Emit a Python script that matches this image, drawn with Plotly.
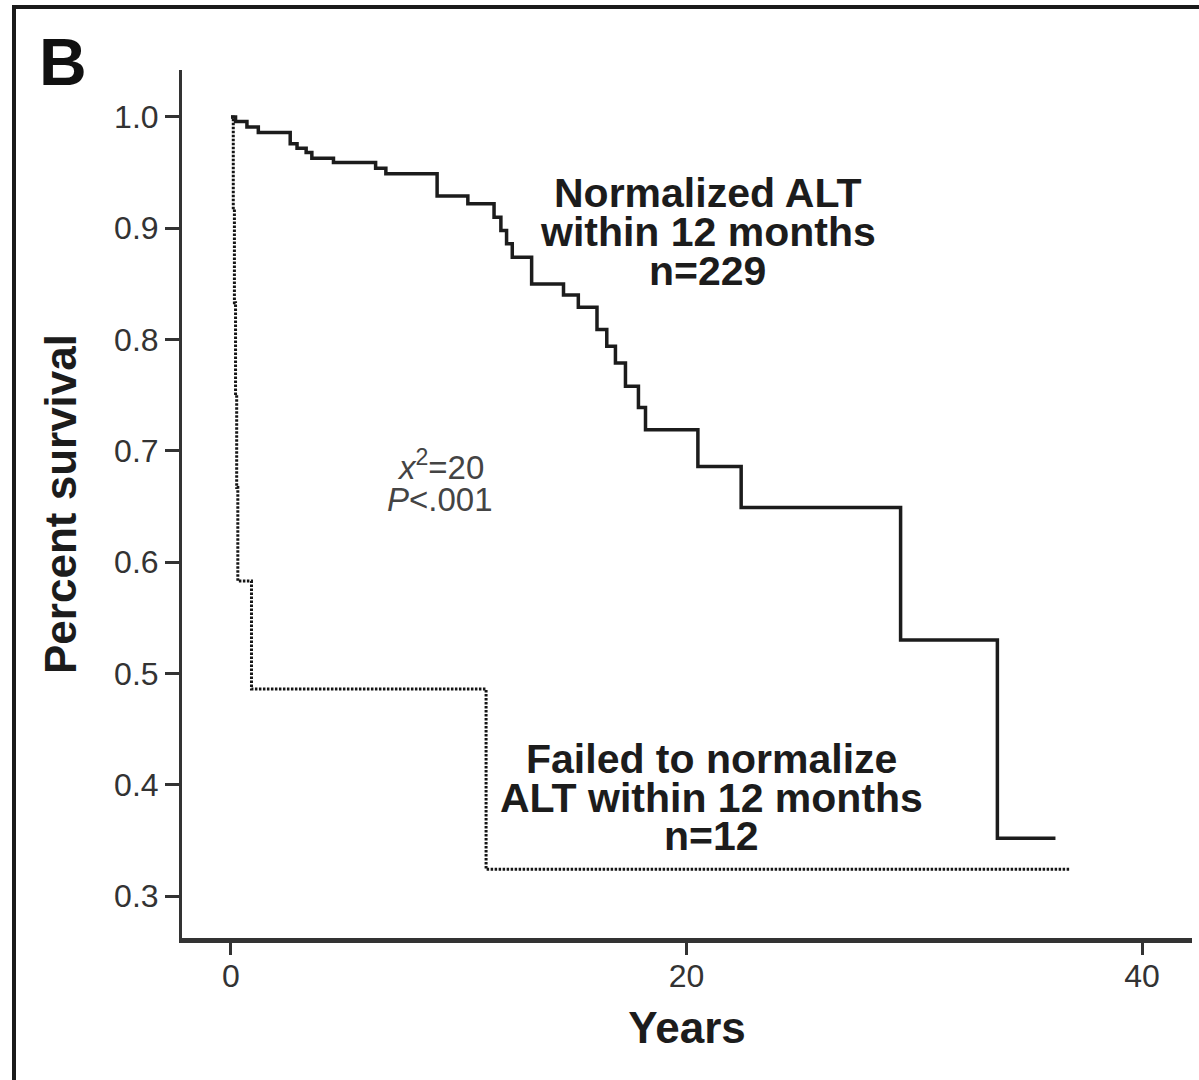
import plotly.graph_objects as go

# Normalized ALT within 12 months (n=229): step times (years) and survival after each step
norm_t = [0.0, 0.2, 0.7, 1.2, 2.6, 2.9, 3.3, 3.55, 4.5, 6.35, 6.8, 9.05, 10.4,
          11.55, 11.85, 12.1, 12.35, 13.2, 14.6, 15.25, 16.07, 16.5, 16.88,
          17.32, 17.89, 18.2, 20.5, 22.4, 29.4, 33.65, 36.2]
norm_s = [1.0, 0.996, 0.991, 0.986, 0.976, 0.972, 0.968, 0.963, 0.959, 0.954,
          0.949, 0.929, 0.922, 0.910, 0.898, 0.886, 0.874, 0.850, 0.840, 0.829,
          0.809, 0.794, 0.779, 0.758, 0.739, 0.719, 0.686, 0.649, 0.530, 0.352, 0.352]

# Failed to normalize ALT within 12 months (n=12)
fail_t = [0.0, 0.1, 0.15, 0.2, 0.25, 0.3, 0.9, 11.2, 36.8]
fail_s = [1.0, 0.917, 0.833, 0.75, 0.667, 0.583, 0.486, 0.324, 0.324]

y_ticks = [0.3, 0.4, 0.5, 0.6, 0.7, 0.8, 0.9, 1.0]
y_tick_labels = ["0.3", "0.4", "0.5", "0.6", "0.7", "0.8", "0.9", "1.0"]
x_ticks = [0, 20, 40]
x_tick_labels = ["0", "20", "40"]

FONT = "Liberation Sans, Arial, Helvetica, sans-serif"
INK = "#1c1c1c"

fig = go.Figure()
fig.add_trace(go.Scatter(x=fail_t, y=fail_s, mode="lines", line_shape="hv",
                         line=dict(color="#151515", width=3, dash="2.5px,1.5px"),
                         showlegend=False, hoverinfo="skip"))
fig.add_trace(go.Scatter(x=norm_t, y=norm_s, mode="lines", line_shape="hv",
                         line=dict(color=INK, width=3.5),
                         showlegend=False, hoverinfo="skip"))


def py2y(py):
    return 1 - (py - 117) / 1113


def ann(text, x, y, size, bold=True, color=INK):
    fig.add_annotation(x=x, y=y, xref="x", yref="y",
                       text=f"<b>{text}</b>" if bold else text,
                       showarrow=False, xanchor="center", yanchor="middle",
                       font=dict(family=FONT, size=size, color=color))


ann("Normalized ALT", 20.94, py2y(193), 41)
ann("within 12 months", 20.94, py2y(232), 41)
ann("n=229", 20.94, py2y(271), 41)
ann("Failed to normalize", 21.1, py2y(759), 41)
ann("ALT within 12 months", 21.1, py2y(798), 41)
ann("n=12", 21.1, py2y(836), 41)
ann("<i>x</i><sup>2</sup>=20", 9.18, py2y(465), 33, bold=False, color="#444444")
ann("<i>P</i>&lt;.001", 9.18, py2y(500), 33, bold=False, color="#444444")

# panel letter
fig.add_annotation(x=(63 - 182) / 1010, y=(938 - 62) / 868, xref="paper", yref="paper",
                   text="<b>B</b>", showarrow=False, xanchor="center", yanchor="middle",
                   font=dict(family=FONT, size=66, color="#111111"))

# figure frame (left and top edges)
fig.add_shape(type="line", xref="paper", yref="paper",
              x0=(14 - 182) / 1010, x1=(14 - 182) / 1010,
              y0=(938 - 5) / 868, y1=(938 - 1090) / 868,
              line=dict(color="#1a1a1a", width=4))
fig.add_shape(type="line", xref="paper", yref="paper",
              x0=(12 - 182) / 1010, x1=(1210 - 182) / 1010,
              y0=(938 - 7) / 868, y1=(938 - 7) / 868,
              line=dict(color="#1a1a1a", width=4))

fig.update_layout(
    width=1199, height=1080,
    margin=dict(l=182, r=7, t=70, b=142),
    paper_bgcolor="white", plot_bgcolor="white",
    font=dict(family=FONT, color="#333333"),
    xaxis=dict(range=[-2.151, 42.195], tickvals=x_ticks, ticktext=x_tick_labels,
               showgrid=False, zeroline=False, showline=True, linewidth=5,
               linecolor="#333333", ticks="outside", ticklen=12, tickwidth=3,
               tickcolor="#333333", tickfont=dict(size=32, color="#333333"),
               ticklabelstandoff=-6,
               title=dict(text="<b>Years</b>", font=dict(size=44, color=INK), standoff=20)),
    yaxis=dict(range=[0.2623, 1.0422], tickvals=y_ticks, ticktext=y_tick_labels,
               showgrid=False, zeroline=False, showline=True, linewidth=3,
               linecolor="#333333", ticks="outside", ticklen=14, tickwidth=3,
               tickcolor="#333333", tickfont=dict(size=32, color="#333333"),
               title=dict(text="<b>Percent survival</b>", font=dict(size=44, color=INK), standoff=24)),
)

fig.write_html("out.html", config={"displayModeBar": False},
               post_script="document.body.style.margin='0';document.body.style.overflow='hidden';")
